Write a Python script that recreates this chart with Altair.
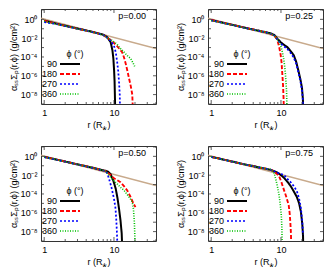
import altair as alt
import pandas as pd

# ---------------- data (Sigma given as log10 values) ----------------
phis = ["90", "180", "270", "360"]
phi_colors = ["#000000", "#ff0000", "#0000ff", "#00c000"]
phi_dashes = [[1, 0], [4, 2], [2, 2], [1, 1.5]]
phi_widths = [2.0, 1.6, 1.6, 1.6]
panel_labels = ["p=0.00", "p=0.25", "p=0.50", "p=0.75"]

x_ticks = [1, 10]
x_minor = [2, 3, 4, 5, 6, 7, 8, 9, 20, 30, 40]
y_ticks = [1e-8, 1e-6, 1e-4, 1e-2, 1]
y_decades = [1e-9, 1e-8, 1e-7, 1e-6, 1e-5, 1e-4, 1e-3, 1e-2, 1e-1, 1, 10]

brown_r = [0.9, 40]
brown_lg = [0.12, -3.1]

# p = 0.00
p00_r90 = [1, 1.5, 2, 3, 4, 5, 6, 7, 8, 8.96, 9.5, 9.8, 10.05, 10.2, 10.3, 10.4]
p00_s90 = [-0.12, -0.46, -0.68, -0.98, -1.18, -1.35, -1.5, -1.62, -1.9, -2.43, -3.3, -4.17, -5.5, -6.6, -8.0, -9.5]
p00_r180 = [1, 1.5, 2, 3, 4, 5, 6, 7, 8, 9, 10, 11.1, 12, 13.1, 14, 14.7, 15.6, 16.4, 17.4, 18.3, 18.6]
p00_s180 = [-0.15, -0.48, -0.7, -1.0, -1.2, -1.37, -1.52, -1.67, -1.95, -2.2, -2.5, -2.85, -3.15, -3.5, -4.1, -4.7, -5.5, -6.25, -7.1, -8.0, -9.5]
p00_r270 = [1, 1.5, 2, 3, 4, 5, 6, 7, 8, 9, 10, 10.6, 11.1, 11.5, 11.8, 12.1, 12.2]
p00_s270 = [-0.3, -0.5, -0.72, -1.0, -1.2, -1.37, -1.52, -1.67, -1.95, -2.3, -2.8, -3.5, -4.5, -5.5, -6.6, -8.0, -9.5]
p00_r360 = [1, 1.5, 2, 3, 4, 5, 6, 7, 8, 9, 10, 11.1, 12, 13.9, 15.5, 17.3, 18.5, 19.8]
p00_s360 = [-0.2, -0.5, -0.7, -1.0, -1.2, -1.37, -1.52, -1.68, -1.95, -2.15, -2.4, -2.65, -3.0, -3.48, -3.85, -4.17, -4.55, -5.0]

# p = 0.25
p25_r90 = [1, 1.5, 2, 3, 4, 5, 6, 7, 8, 9, 9.9, 11, 12.3, 13.5, 15.2, 16.5, 17.9, 19, 20, 20.6, 20.8]
p25_s90 = [-0.07, -0.38, -0.58, -0.88, -1.08, -1.24, -1.36, -1.47, -1.65, -2.1, -2.43, -2.7, -2.95, -3.3, -3.8, -4.5, -5.56, -6.4, -7.3, -8.5, -9.5]
p25_r180 = [1, 1.5, 2, 3, 4, 5, 6, 7, 8, 8.8, 9.4, 9.9, 10.2, 10.4, 10.7, 10.9, 11.0]
p25_s180 = [-0.07, -0.38, -0.58, -0.88, -1.08, -1.24, -1.36, -1.5, -1.75, -2.1, -2.9, -3.8, -4.6, -5.56, -7.0, -8.5, -9.5]
p25_r270 = [1, 1.5, 2, 3, 4, 5, 6, 7, 8, 9, 9.9, 11, 12.3, 13.5, 15.2, 16.5, 17.9, 19, 20, 20.6, 20.8]
p25_s270 = [-0.1, -0.4, -0.6, -0.9, -1.1, -1.25, -1.37, -1.5, -1.7, -2.2, -2.6, -2.85, -3.15, -3.5, -4.05, -4.7, -5.75, -6.6, -7.5, -8.6, -9.5]
p25_r360 = [1, 1.5, 2, 3, 4, 5, 6, 7, 8, 9, 9.9, 10.5, 10.9, 11.3, 11.6, 12.0, 12.2]
p25_s360 = [-0.12, -0.4, -0.6, -0.9, -1.1, -1.25, -1.37, -1.5, -1.7, -2.2, -2.78, -3.5, -4.17, -5.0, -5.9, -7.5, -9.5]

# p = 0.50
p50_r90 = [1, 1.5, 2, 3, 4, 5, 6, 7, 7.6, 8.3, 8.96, 9.8, 10.6, 11.2, 11.8, 12.4, 12.9, 13.1]
p50_s90 = [-0.05, -0.35, -0.55, -0.85, -1.05, -1.22, -1.37, -1.48, -1.54, -1.65, -1.9, -2.6, -3.45, -4.4, -5.55, -6.8, -8.2, -9.5]
p50_r180 = [1, 1.5, 2, 3, 4, 5, 6, 7, 7.6, 8.3, 9, 10, 11.2, 12.4, 14, 15.5, 17.5, 19, 20.3]
p50_s180 = [-0.05, -0.35, -0.55, -0.85, -1.05, -1.22, -1.37, -1.5, -1.58, -1.8, -2.0, -2.34, -2.55, -2.76, -3.2, -3.63, -4.4, -5.0, -5.4]
p50_r270 = [1, 1.5, 2, 3, 4, 5, 6, 7, 7.6, 8, 8.5, 9.2, 10, 10.5, 10.8, 11.0, 11.2]
p50_s270 = [-0.08, -0.37, -0.57, -0.87, -1.07, -1.24, -1.38, -1.5, -1.6, -1.8, -2.4, -3.3, -4.5, -5.5, -6.8, -8.0, -9.5]
p50_r360 = [1, 1.5, 2, 3, 4, 5, 6, 7, 7.6, 8.3, 9, 10, 11.2, 12.4, 13.9, 16, 17.5, 18.3, 19.0, 19.6, 19.9, 20.0]
p50_s360 = [-0.06, -0.36, -0.56, -0.86, -1.06, -1.23, -1.38, -1.5, -1.6, -1.9, -2.25, -2.6, -2.95, -3.3, -3.6, -4.2, -4.6, -4.86, -5.6, -7.0, -8.5, -9.5]

# p = 0.75
p75_r90 = [1, 1.5, 2, 3, 4, 5, 6, 7, 7.5, 8.8, 10, 10.9, 12.2, 13.6, 15.2, 16.9, 18.2, 19.3, 20.2, 20.7, 20.8]
p75_s90 = [-0.04, -0.35, -0.55, -0.85, -1.03, -1.2, -1.31, -1.42, -1.5, -1.71, -2.0, -2.24, -2.65, -3.1, -3.7, -4.33, -5.0, -5.9, -7.2, -8.5, -9.5]
p75_r180 = [1, 1.5, 2, 3, 4, 5, 6, 7, 7.5, 8.2, 9.35, 10.1, 10.9, 11.9, 12.9, 13.3, 13.6, 13.9, 14.0]
p75_s180 = [-0.05, -0.36, -0.56, -0.86, -1.04, -1.2, -1.31, -1.42, -1.5, -1.7, -2.06, -2.7, -3.46, -4.3, -5.2, -6.0, -6.95, -8.2, -9.5]
p75_r270 = [1, 1.5, 2, 3, 4, 5, 6, 7, 7.5, 8.8, 10, 10.9, 12.2, 13.6, 15.2, 16.9, 18.2, 19.3, 20.2, 20.7]
p75_s270 = [-0.06, -0.36, -0.56, -0.86, -1.04, -1.2, -1.31, -1.42, -1.5, -1.72, -1.88, -1.95, -2.35, -2.7, -3.15, -3.7, -4.5, -5.5, -7.0, -8.35]
p75_r360 = [1, 1.5, 2, 3, 4, 5, 6, 7, 7.5, 8, 8.4, 8.9, 9.4, 9.8, 10.1, 10.3, 10.4]
p75_s360 = [-0.05, -0.36, -0.56, -0.86, -1.04, -1.2, -1.31, -1.4, -1.5, -1.8, -2.4, -3.2, -4.16, -5.2, -6.25, -7.6, -9.5]

panels = [
    [(p00_r90, p00_s90), (p00_r180, p00_s180), (p00_r270, p00_s270), (p00_r360, p00_s360)],
    [(p25_r90, p25_s90), (p25_r180, p25_s180), (p25_r270, p25_s270), (p25_r360, p25_s360)],
    [(p50_r90, p50_s90), (p50_r180, p50_s180), (p50_r270, p50_s270), (p50_r360, p50_s360)],
    [(p75_r90, p75_s90), (p75_r180, p75_s180), (p75_r270, p75_s270), (p75_r360, p75_s360)],
]

# ---------------- chart ----------------
W, H = 115, 95
FONT = "Liberation Sans"
BROWN = "#c8aa8c"
FRAME = "#333333"

xscale = alt.Scale(type="log", domain=[0.9, 40], nice=False)
yscale = alt.Scale(type="log", domain=[1e-9, 12.6], nice=False)

y_label_expr = (
    "datum.value >= 0.5 ? '10⁰' : datum.value >= 0.005 ? '10⁻²' : "
    "datum.value >= 5e-5 ? '10⁻⁴' : datum.value >= 5e-7 ? '10⁻⁶' : '10⁻⁸'"
)

xaxis = alt.Axis(values=x_ticks, format="d", title="r (R⁎)", grid=False, domain=False,
                 ticks=False, labelPadding=4, titlePadding=3)
yaxis = alt.Axis(values=y_ticks, labelExpr=y_label_expr, title="αₛₛΣₚ(r,ϕ) (g/cm²)",
                 grid=False, domain=False, ticks=False, labelPadding=4, titlePadding=2)

legend = alt.Legend(
    title="ϕ (°)", orient="none", legendX=24, legendY=41,
    symbolType="M-2.5,0H2.5", symbolSize=64, symbolStrokeWidth=1.6,
    labelAlign="right", labelOffset=alt.ExprRef("-18"), titleAnchor="middle",
    titleFontWeight="normal", titleFontSize=9, labelFontSize=9,
    rowPadding=alt.ExprRef("-1.2"), padding=0, titlePadding=0, labelFont=FONT, titleFont=FONT,
)


def make_panel(label, series):
    rows = []
    for phi, (rs, lgs) in zip(phis, series):
        for r, lg in zip(rs, lgs):
            rows.append({"r": r, "sig": 10 ** lg, "phi": phi})
    df = pd.DataFrame(rows)
    bdf = pd.DataFrame({"r": brown_r, "sig": [10 ** v for v in brown_lg]})
    xmaj = pd.DataFrame({"r": x_ticks})
    xmin = pd.DataFrame({"r": x_minor})
    ydec = pd.DataFrame({"sig": y_decades})

    X = alt.X("r:Q", scale=xscale, axis=xaxis)
    Y = alt.Y("sig:Q", scale=yscale, axis=yaxis)

    brown = alt.Chart(bdf).mark_line(color=BROWN, strokeWidth=1.5, clip=True).encode(x=X, y=Y)
    lines = alt.Chart(df).mark_line(clip=True).encode(
        x=X, y=Y,
        color=alt.Color("phi:N", scale=alt.Scale(domain=phis, range=phi_colors), legend=legend),
        strokeDash=alt.StrokeDash("phi:N", scale=alt.Scale(domain=phis, range=phi_dashes), legend=legend),
        strokeWidth=alt.StrokeWidth("phi:N", scale=alt.Scale(domain=phis, range=phi_widths), legend=None),
    )
    tick_layers = []
    for tdf, ln in ((xmaj, 4), (xmin, 2)):
        tick_layers.append(alt.Chart(tdf).mark_rule(color=FRAME, strokeWidth=0.8).encode(
            x=X, y=alt.value(H), y2=alt.value(H - ln)))
        tick_layers.append(alt.Chart(tdf).mark_rule(color=FRAME, strokeWidth=0.8).encode(
            x=X, y=alt.value(0), y2=alt.value(ln)))
    tick_layers.append(alt.Chart(ydec).mark_rule(color=FRAME, strokeWidth=0.8, clip=True).encode(
        y=Y, x=alt.value(0), x2=alt.value(3)))
    tick_layers.append(alt.Chart(ydec).mark_rule(color=FRAME, strokeWidth=0.8, clip=True).encode(
        y=Y, x=alt.value(W), x2=alt.value(W - 3)))
    txt = alt.Chart(pd.DataFrame({"t": [label]})).mark_text(
        align="right", baseline="middle", fontSize=9, font=FONT, color="#000000"
    ).encode(text="t:N", x=alt.value(W - 10), y=alt.value(7))
    return alt.layer(brown, lines, *tick_layers, txt).properties(width=W, height=H)


charts = [make_panel(lbl, s) for lbl, s in zip(panel_labels, panels)]


def res(c):
    return c.resolve_scale(
        color="independent", strokeDash="independent", strokeWidth="independent"
    ).resolve_legend(color="independent", strokeDash="independent")


row1 = res(alt.hconcat(charts[0], charts[1], spacing=18))
row2 = res(alt.hconcat(charts[2], charts[3], spacing=18))

chart = res(alt.vconcat(row1, row2, spacing=15)).properties(
    padding=0, background="white"
).configure_view(stroke=FRAME, strokeWidth=1).configure_axis(
    labelFont=FONT, titleFont=FONT, labelFontSize=9, titleFontSize=9,
    titleFontWeight="normal", labelColor="#000000", titleColor="#000000",
)

chart.save("out.html", embed_options={"renderer": "svg", "actions": False})
